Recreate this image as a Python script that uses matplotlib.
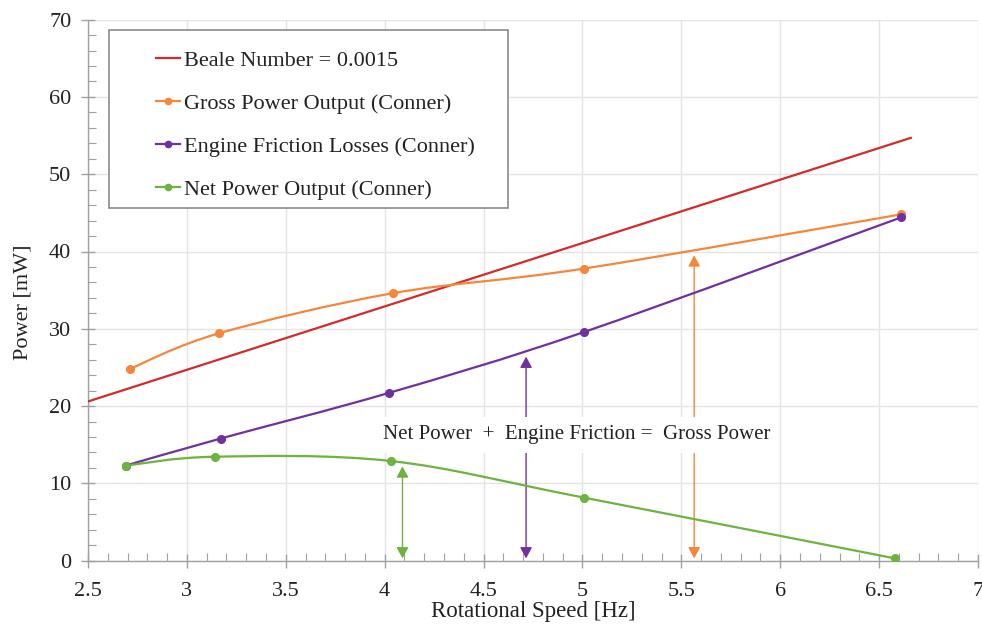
import numpy as np
import matplotlib
matplotlib.use("Agg")
import matplotlib.pyplot as plt
from matplotlib.path import Path
from matplotlib.patches import PathPatch, Rectangle
from matplotlib.ticker import MultipleLocator
from matplotlib.lines import Line2D

plt.rcParams['font.family'] = ['Liberation Serif', 'DejaVu Serif']

# data
beale_speed = [2.5, 6.66]
beale_power = [20.6, 54.7]

gross_speed = [2.71, 3.16, 4.04, 5.01, 6.61]
gross_power = [24.8, 29.4, 34.6, 37.8, 44.8]

friction_speed = [2.69, 3.17, 4.02, 5.01, 6.61]
friction_power = [12.3, 15.8, 21.7, 29.6, 44.4]

net_speed = [2.69, 3.14, 4.03, 5.01, 6.58]
net_power = [12.3, 13.45, 12.9, 8.15, 0.3]

# arrows: (speed, bottom, top)
arrow_net = (4.09, 0.3, 12.2)
arrow_friction = (4.715, 0.3, 26.4)
arrow_gross = (5.565, 0.3, 39.5)

RED = '#d42a2a'
ORANGE = '#f5863a'
PURPLE = '#7030a0'
GREEN = '#6cb33f'
TXT = '#222222'


def smooth_path(xs, ys):
    # Excel style smoothed line: Catmull-Rom segments as cubic beziers
    pts = np.column_stack([xs, ys]).astype(float)
    n = len(pts)
    verts = [pts[0]]
    codes = [Path.MOVETO]
    for i in range(n - 1):
        p0 = pts[i - 1] if i > 0 else pts[i]
        p1 = pts[i]
        p2 = pts[i + 1]
        p3 = pts[i + 2] if i + 2 < n else pts[i + 1]
        c1 = p1 + (p2 - p0) / 6.0
        c2 = p2 - (p3 - p1) / 6.0
        verts += [c1, c2, p2]
        codes += [Path.CURVE4] * 3
    return Path(verts, codes)


fig = plt.figure(figsize=(9.82, 6.27), dpi=100)
ax = fig.add_axes([88 / 982, 1 - 560.7 / 627, (978 - 88) / 982, (560.7 - 19.6) / 627])

ax.set_xlim(2.5, 7)
ax.set_ylim(0, 70)
ax.xaxis.set_minor_locator(MultipleLocator(0.1))
ax.yaxis.set_major_locator(MultipleLocator(10))
ax.yaxis.set_minor_locator(MultipleLocator(2))
ax.set_xticks(np.arange(2.5, 7.01, 0.5))
ax.set_xticklabels(['2.5', '3', '3.5', '4', '4.5', '5', '5.5', '6', '6.5', '7'])
ax.grid(True, which='major', color='#e4e4e4', linewidth=1.0, zorder=0)
ax.set_axisbelow(True)

for s in ['top', 'right']:
    ax.spines[s].set_visible(False)
for s in ['left', 'bottom']:
    ax.spines[s].set_color('#a0a0a0')
    ax.spines[s].set_linewidth(1.0)

ax.tick_params(which='major', direction='inout', length=10, width=1.0,
               color='#a0a0a0', labelsize=16, labelcolor=TXT)
ax.tick_params(axis='x', which='major', pad=10)
ax.tick_params(axis='y', which='major', pad=7)
ax.tick_params(which='minor', direction='in', length=6, width=0.8,
               color='#a0a0a0')

ax.set_xlabel('Rotational Speed [Hz]', fontsize=16.5, color=TXT, labelpad=0)
ax.set_ylabel('Power [mW]', fontsize=16, color=TXT)
ax.yaxis.set_label_coords(-0.062, 0.478)

# Beale line
ax.plot(beale_speed, beale_power, color=RED, lw=1.6, zorder=3)

series = [
    (gross_speed, gross_power, ORANGE),
    (friction_speed, friction_power, PURPLE),
    (net_speed, net_power, GREEN),
]
for xs, ys, c in series:
    ax.add_patch(PathPatch(smooth_path(xs, ys), fill=False, edgecolor=c,
                           lw=1.6, zorder=3, transform=ax.transData))
    ax.plot(xs, ys, ls='none', marker='o', ms=5.5, color=c, zorder=4)

for (x, y0, y1), c in [(arrow_net, GREEN), (arrow_friction, PURPLE),
                       (arrow_gross, ORANGE)]:
    ax.annotate('', xy=(x, y1), xytext=(x, y0),
                arrowprops=dict(arrowstyle='<|-|>,head_length=0.55,head_width=0.3',
                                color=c, lw=1.0, shrinkA=0, shrinkB=0,
                                mutation_scale=12),
                zorder=2)

ax.text(4.97, 16.3, 'Net Power  +  Engine Friction =  Gross Power',
        fontsize=15, color=TXT, ha='center', va='center', zorder=5,
        bbox=dict(facecolor='white', edgecolor='none', pad=6))

# legend with a separate frame
frame = Rectangle((109 / 982, 1 - 208 / 627), (508 - 109) / 982, (208 - 30) / 627,
                  transform=fig.transFigure, facecolor='white',
                  edgecolor='#8a8a8a', lw=1.2, zorder=6)
fig.patches.append(frame)

handles = [
    Line2D([], [], color=RED, lw=1.6),
    Line2D([], [], color=ORANGE, lw=1.6, marker='o', ms=4.5),
    Line2D([], [], color=PURPLE, lw=1.6, marker='o', ms=4.5),
    Line2D([], [], color=GREEN, lw=1.6, marker='o', ms=4.5),
]
labels = ['Beale Number = 0.0015', 'Gross Power Output (Conner)',
          'Engine Friction Losses (Conner)', 'Net Power Output (Conner)']
leg = fig.legend(handles, labels, loc='upper left',
                 bbox_to_anchor=(156 / 982, 1 - 50 / 627), frameon=False,
                 fontsize=16, handlelength=1.1, handletextpad=0.15,
                 labelspacing=1.02, borderpad=0, borderaxespad=0)
for t in leg.get_texts():
    t.set_color(TXT)
leg.set_zorder(7)

fig.savefig('out.png', dpi=100)
